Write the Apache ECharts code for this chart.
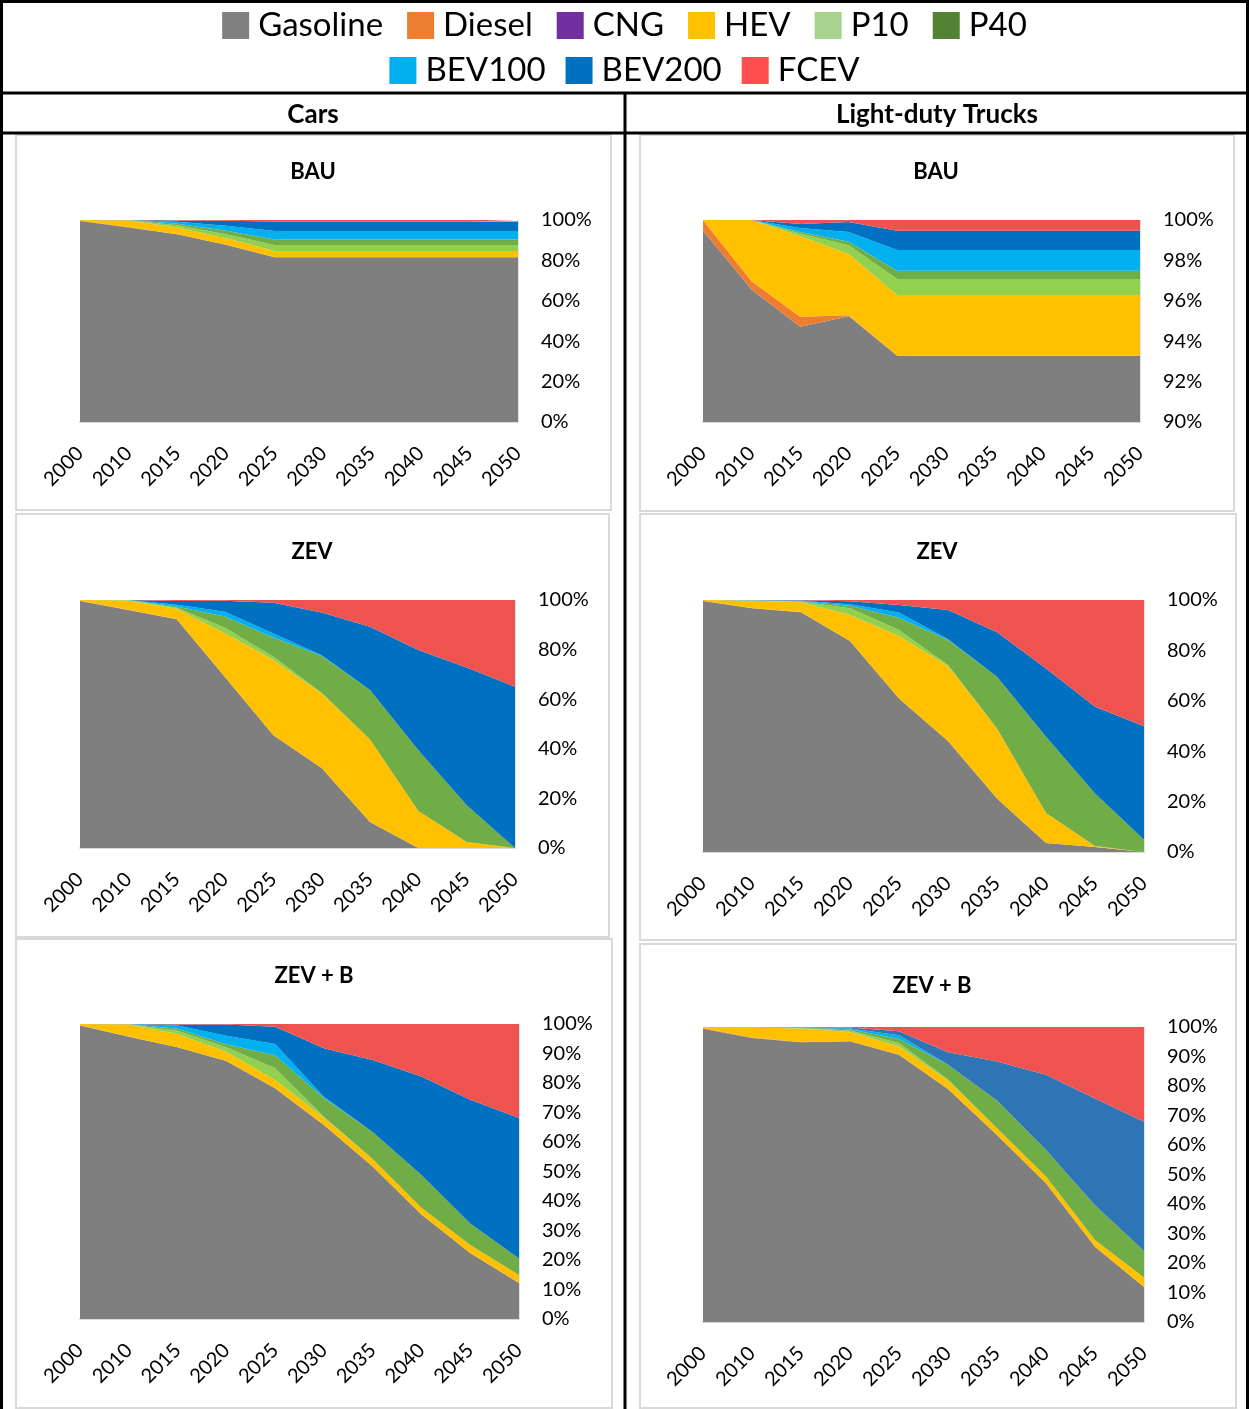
<!DOCTYPE html>
<html>
<head>
<meta charset="utf-8">
<script src="https://cdn.jsdelivr.net/npm/echarts@6/dist/echarts.min.js"></script>
<style>
  html, body { margin: 0; padding: 0; background: #fff; }
  #chart { width: 1249px; height: 1409px; }
</style>
</head>
<body>
<div id="chart"></div>
<script>
// Categories and fuel types (stack order, bottom to top)
const years = ['2000', '2010', '2015', '2020', '2025', '2030', '2035', '2040', '2045', '2050'];
const fuels = ['Gasoline', 'Diesel', 'CNG', 'HEV', 'P10', 'P40', 'BEV100', 'BEV200', 'FCEV'];

// Sales shares (%) per scenario; one row per fuel, in the order of `fuels`
const carsBAU = [
  [99.5, 96.3, 92.9, 87.8, 81.5, 81.5, 81.5, 81.5, 81.5, 81.5],
  [0.2, 0.2, 0.1, 0, 0, 0, 0, 0, 0, 0],
  [0, 0, 0, 0, 0, 0, 0, 0, 0, 0],
  [0.3, 3.3, 3.3, 3.2, 3.1, 3.1, 3.1, 3.1, 3.1, 3.1],
  [0, 0.1, 1.1, 2.0, 3.0, 3.0, 3.0, 3.0, 3.0, 3.0],
  [0, 0.1, 0.7, 1.7, 2.8, 2.8, 2.8, 2.8, 2.8, 2.8],
  [0, 0, 1.0, 2.4, 4.1, 4.1, 4.1, 4.1, 4.1, 4.1],
  [0, 0, 0.6, 2.5, 4.8, 4.8, 4.8, 4.8, 4.8, 4.8],
  [0, 0, 0.3, 0.4, 0.7, 0.7, 0.7, 0.7, 0.7, 0.7]
];
const trucksBAU = [
  [99.47, 96.56, 94.71, 95.24, 93.28, 93.28, 93.28, 93.28, 93.28, 93.28],
  [0.53, 0.41, 0.50, 0.03, 0, 0, 0, 0, 0, 0],
  [0, 0, 0, 0.01, 0, 0, 0, 0, 0, 0],
  [0, 3.03, 3.99, 3.04, 3.01, 3.01, 3.01, 3.01, 3.01, 3.01],
  [0, 0, 0.13, 0.43, 0.79, 0.79, 0.79, 0.79, 0.79, 0.79],
  [0, 0, 0.07, 0.17, 0.41, 0.41, 0.41, 0.41, 0.41, 0.41],
  [0, 0, 0.20, 0.48, 1.02, 1.02, 1.02, 1.02, 1.02, 1.02],
  [0, 0, 0.20, 0.50, 0.96, 0.96, 0.96, 0.96, 0.96, 0.96],
  [0, 0, 0.20, 0.10, 0.53, 0.53, 0.53, 0.53, 0.53, 0.53]
];
const carsZEV = [
  [99.6, 96.0, 92.2, 69.0, 45.5, 32.3, 10.5, 0, 0, 0],
  [0.1, 0.1, 0.1, 0, 0, 0, 0, 0, 0, 0],
  [0, 0, 0, 0, 0, 0, 0, 0, 0, 0],
  [0.3, 3.7, 4.2, 17.5, 30.3, 30.0, 33.2, 14.9, 2.4, 0],
  [0, 0.1, 0.4, 2.3, 1.3, 0.3, 0, 0, 0, 0],
  [0, 0.1, 0.5, 4.5, 7.8, 14.8, 20.0, 24.5, 14.8, 0],
  [0, 0, 0.7, 2.0, 1.6, 0.3, 0, 0, 0, 0],
  [0, 0, 1.5, 4.4, 12.4, 17.3, 25.5, 40.4, 55.6, 65.0],
  [0, 0, 0.4, 0.3, 1.1, 5.0, 10.8, 20.2, 27.2, 35.0]
];
const trucksZEV = [
  [99.6, 96.7, 95.1, 83.7, 60.9, 44.0, 21.2, 3.6, 2.0, 0],
  [0.1, 0.1, 0.1, 0, 0, 0, 0, 0, 0, 0],
  [0, 0, 0, 0, 0, 0, 0, 0, 0, 0],
  [0.3, 2.9, 4.0, 10.3, 24.8, 29.8, 27.8, 11.9, 0.4, 0],
  [0, 0.1, 0.2, 2.7, 2.4, 0.4, 0, 0, 0, 0],
  [0, 0.1, 0.1, 1.0, 4.9, 9.9, 20.5, 30.2, 20.8, 4.9],
  [0, 0.1, 0.2, 0.6, 2.0, 0.3, 0, 0, 0, 0],
  [0, 0, 0.2, 1.2, 3.0, 11.6, 17.7, 27.1, 34.4, 45.0],
  [0, 0, 0.1, 0.5, 2.0, 4.0, 12.8, 27.2, 42.4, 50.1]
];
const carsZEVB = [
  [99.5, 95.7, 92.1, 87.5, 78.2, 65.8, 51.7, 35.4, 22.4, 12.2],
  [0.1, 0.1, 0, 0, 0, 0, 0, 0, 0, 0],
  [0, 0, 0, 0, 0, 0, 0, 0, 0, 0],
  [0.4, 4.0, 4.5, 3.0, 2.8, 2.4, 2.5, 2.3, 2.7, 2.7],
  [0, 0.1, 1.1, 1.6, 4.0, 0.4, 0, 0, 0, 0],
  [0, 0.1, 0.7, 1.0, 4.4, 6.3, 9.2, 11.1, 7.3, 5.6],
  [0, 0, 1.1, 2.9, 3.8, 0.4, 0, 0, 0, 0],
  [0, 0, 0.3, 3.8, 5.9, 16.5, 24.4, 33.4, 41.9, 47.6],
  [0, 0, 0.2, 0.2, 0.9, 8.2, 12.2, 17.8, 25.7, 31.9]
];
const trucksZEVB = [
  [99.4, 96.3, 94.8, 95.2, 90.6, 79.0, 63.4, 47.0, 25.5, 11.9],
  [0.3, 0.1, 0.1, 0, 0, 0, 0, 0, 0, 0],
  [0, 0, 0, 0, 0, 0, 0, 0, 0, 0],
  [0.3, 3.4, 4.6, 3.1, 2.8, 2.9, 2.3, 2.3, 2.3, 3.2],
  [0, 0.1, 0.2, 0.5, 1.2, 0.3, 0, 0, 0, 0],
  [0, 0.1, 0.1, 0.4, 1.3, 5.0, 9.4, 9.0, 11.8, 9.0],
  [0, 0, 0.1, 0.3, 1.3, 0, 0, 0, 0, 0],
  [0, 0, 0.1, 0.3, 1.4, 4.2, 13.2, 25.5, 36.2, 43.8],
  [0, 0, 0, 0.2, 1.4, 8.6, 11.7, 16.2, 24.2, 32.1]
];

// Colours
const FONT = 'Lato, "Open Sans", sans-serif';
const areaColors = ['#7F7F7F', '#ED7D31', '#7030A0', '#FFC000', '#92D050', '#70AD47', '#00B0F0', '#0070C0', '#EF5350'];
const legendColors = ['#808080', '#ED7D31', '#7030A0', '#FFC000', '#A9D18E', '#548235', '#00B0F0', '#0070C0', '#FF5050'];

// Panel definitions: plot rectangle, y range, data
const panels = [
  { data: carsBAU,   grid: { left: 80,  top: 220,  width: 438, height: 202 }, min: 0,  max: 100, interval: 20 },
  { data: trucksBAU, grid: { left: 703, top: 220,  width: 437, height: 202 }, min: 90, max: 100, interval: 2 },
  { data: carsZEV,   grid: { left: 80,  top: 600,  width: 435, height: 248 }, min: 0,  max: 100, interval: 20 },
  { data: trucksZEV, grid: { left: 703, top: 600,  width: 441, height: 252 }, min: 0,  max: 100, interval: 20 },
  { data: carsZEVB,  grid: { left: 80,  top: 1024, width: 439, height: 295 }, min: 0,  max: 100, interval: 10 },
  { data: trucksZEVB,grid: { left: 703, top: 1027, width: 441, height: 295 }, min: 0,  max: 100, interval: 10, overrides: { BEV200: '#2E75B6' } }
];

const grids = [], xAxes = [], yAxes = [], series = [];
panels.forEach((p, idx) => {
  grids.push(Object.assign({ containLabel: false }, p.grid));
  xAxes.push({
    type: 'category', gridIndex: idx, data: years, boundaryGap: false,
    axisLine: { show: true, lineStyle: { color: '#D9D9D9', width: 2 } },
    axisTick: { show: false },
    splitLine: { show: false },
    axisLabel: { rotate: 45, interval: 0, margin: 28, fontSize: 20, fontFamily: FONT, color: '#000', hideOverlap: false }
  });
  yAxes.push({
    type: 'value', gridIndex: idx, position: 'right', min: p.min, max: p.max, interval: p.interval,
    axisLine: { show: true, lineStyle: { color: '#D9D9D9', width: 1.5 } },
    axisTick: { show: false },
    splitLine: { show: false },
    axisLabel: { margin: 23, fontSize: 20, fontFamily: FONT, color: '#000', formatter: '{value}%' }
  });
  fuels.forEach((f, i) => {
    const c = (p.overrides && p.overrides[f]) || areaColors[i];
    series.push({
      type: 'line', name: f, xAxisIndex: idx, yAxisIndex: idx, stack: 'panel' + idx,
      data: p.data[i], symbol: 'none', showSymbol: false,
      lineStyle: { width: 0, color: c }, itemStyle: { color: c },
      areaStyle: { color: c, opacity: 1 },
      emphasis: { disabled: true }, silent: true, animation: false
    });
  });
});

// Table frame, panel boxes and headings
const black = { stroke: '#000', lineWidth: 3 };
const boxStyle = { fill: 'none', stroke: '#D9D9D9', lineWidth: 2 };
const line = (x1, y1, x2, y2) => ({ type: 'line', shape: { x1, y1, x2, y2 }, style: black, silent: true });
const box = (x1, y1, x2, y2) => ({ type: 'rect', shape: { x: x1, y: y1, width: x2 - x1, height: y2 - y1 }, style: boxStyle, silent: true });
const text = (x, y, t, size) => ({
  type: 'text', x, y, silent: true,
  style: { text: t, font: 'bold ' + size + 'px ' + FONT, fill: '#000', align: 'center', verticalAlign: 'middle' }
});

const graphic = [
  box(16, 135, 611, 510), box(16, 514, 609, 937), box(16, 939, 612, 1408),
  box(640, 135, 1234, 511), box(640, 514, 1236, 940), box(640, 944, 1236, 1408),
  line(1.5, 0, 1.5, 1409), line(1247.5, 0, 1247.5, 1409), line(0, 1.5, 1249, 1.5),
  line(0, 93, 1249, 93), line(0, 133, 1249, 133), line(625, 93, 625, 1409),
  text(313, 115, 'Cars', 26), text(937, 115, 'Light-duty Trucks', 26),
  text(313, 172, 'BAU', 22), text(936, 172, 'BAU', 22),
  text(312, 552, 'ZEV', 22), text(937, 552, 'ZEV', 22),
  text(314, 976, 'ZEV + B', 22), text(932, 986, 'ZEV + B', 22)
];

const legendItem = (name) => ({ name, itemStyle: { color: legendColors[fuels.indexOf(name)] } });
const legendBase = {
  left: 'center', orient: 'horizontal', icon: 'rect', itemWidth: 27, itemHeight: 27, itemGap: 24,
  selectedMode: false,
  textStyle: { fontSize: 33, fontFamily: FONT, color: '#000', padding: [0, 0, 0, 4] }
};

const option = {
  animation: false,
  legend: [
    Object.assign({}, legendBase, { top: 4, data: ['Gasoline', 'Diesel', 'CNG', 'HEV', 'P10', 'P40'].map(legendItem) }),
    Object.assign({}, legendBase, { top: 49, itemGap: 20, data: ['BEV100', 'BEV200', 'FCEV'].map(legendItem) })
  ],
  grid: grids,
  xAxis: xAxes,
  yAxis: yAxes,
  series,
  graphic
};

const chart = echarts.init(document.getElementById('chart'), null, { renderer: 'canvas' });
chart.setOption(option);
</script>
</body>
</html>
